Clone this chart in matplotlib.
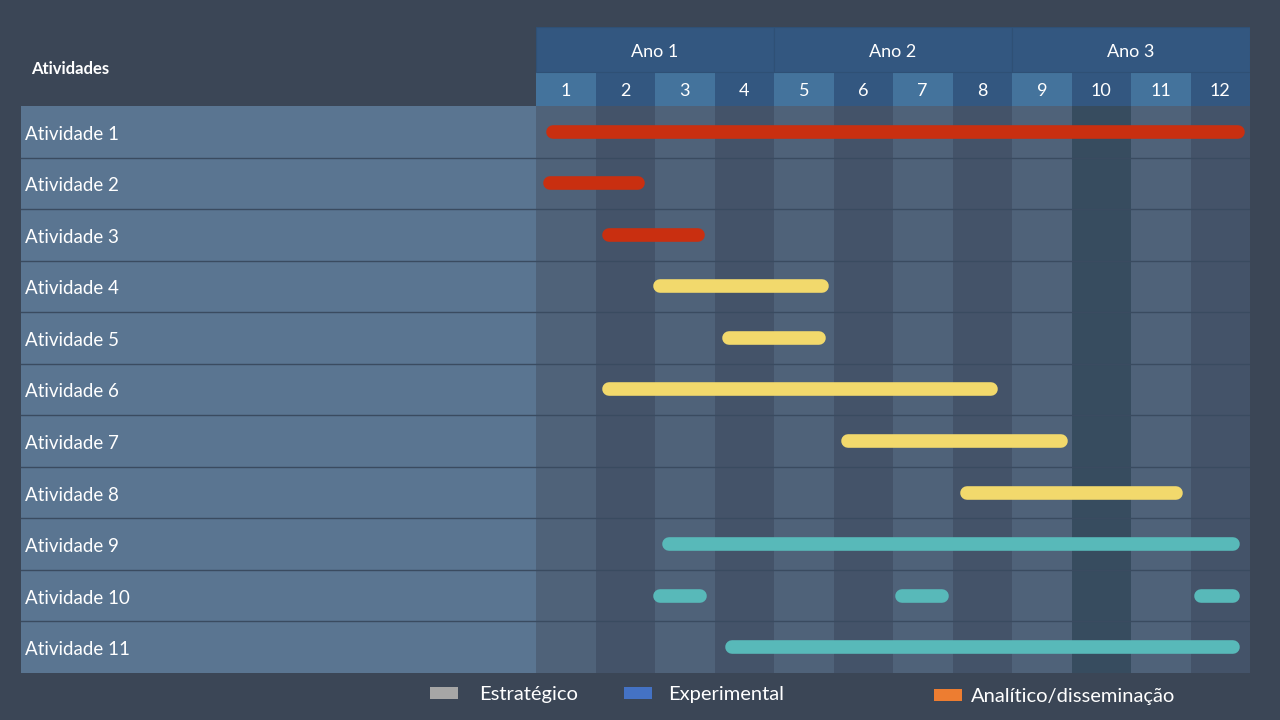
import matplotlib.pyplot as plt
from matplotlib.patches import Rectangle

# dados do cronograma (em meses, 0 = inicio do mes 1)
atividades = ['Atividade %d' % i for i in range(1, 12)]
anos = ['Ano 1', 'Ano 2', 'Ano 3']
meses = [str(m) for m in range(1, 13)]
inicio = [[0.17], [0.12], [1.11], [1.98], [3.14], [1.11], [5.13], [7.13], [2.12],
          [1.98, 6.05, 11.06], [3.18]]
fim = [[11.90], [1.83], [2.84], [4.92], [4.86], [7.75], [8.94], [10.87], [11.83],
       [2.86, 6.94, 11.83], [11.83]]
grupo = ['r', 'r', 'r', 'y', 'y', 'y', 'y', 'y', 't', 't', 't']
legenda = ['Estratégico', 'Experimental', 'Analítico/disseminação']

cores_barra = {'r': '#c92f10', 'y': '#f2d96c', 't': '#58b9b9'}
cores_leg = ['#a6a6a6', '#4472c4', '#ed7d31']
fundo = '#3b4656'

plt.rcParams['font.family'] = ['Lato', 'DejaVu Sans']

fig = plt.figure(figsize=(12.8, 7.2), dpi=100)
fig.patch.set_facecolor(fundo)
ax = fig.add_axes([21 / 1280, 1 - 673 / 720, (1250 - 21) / 1280, (673 - 27) / 720])
ax.set_facecolor(fundo)

n = len(atividades)
lab_w = (536 - 21) / 59.5
mes_h = 34 / 51.55
ano_h = 79 / 51.55
dy = 2.5 / 51.55  # pequeno ajuste vertical do texto
ax.set_xlim(-lab_w, 12)
ax.set_ylim(n, -ano_h)
ax.axis('off')

# colunas do corpo
for i in range(12):
    c = '#4f6279' if i % 2 == 0 else '#445369'
    if i == 9:
        c = '#374c5f'
    ax.add_patch(Rectangle((i, 0), 1, n, facecolor=c, edgecolor='none'))
    # cabecalho dos meses
    ch = '#44739c' if i % 2 == 0 else '#335780'
    ax.add_patch(Rectangle((i, -mes_h), 1, mes_h, facecolor=ch, edgecolor='none'))
    ax.text(i + 0.5, -mes_h / 2 + dy, meses[i], color='white', fontsize=13,
            ha='center', va='center')

# cabecalho dos anos
for k, a in enumerate(anos):
    ax.add_patch(Rectangle((4 * k, -ano_h), 4, ano_h - mes_h, facecolor='#335780',
                           edgecolor='#2f5075', linewidth=0.8))
    ax.text(4 * k + 2, -(ano_h + mes_h) / 2 + dy, a, color='white', fontsize=13,
            ha='center', va='center')

ax.text(-lab_w + 10 / 59.5, -ano_h / 2 + dy, 'Atividades', color='white',
        fontsize=12, fontweight='bold', ha='left', va='center')

# coluna das atividades
ax.add_patch(Rectangle((-lab_w, 0), lab_w, n, facecolor='#5a7591', edgecolor='none'))
for r in range(n):
    ax.text(-lab_w + 4 / 59.5, r + 0.5 + dy, atividades[r], color='white', fontsize=13.5,
            ha='left', va='center')
    if r > 0:
        ax.plot([-lab_w, 12], [r, r], color='#3a4b60', linewidth=1)

# barras
raio = 6.5 / 59.5
for r in range(n):
    for s, e in zip(inicio[r], fim[r]):
        ax.plot([s + raio, e - raio], [r + 0.5, r + 0.5], color=cores_barra[grupo[r]],
                linewidth=9.8, solid_capstyle='round')

# legenda
pos_leg = [(430, 693, 479), (624, 693, 668), (934, 695, 971)]
for (x0, yc, xt), nome, c in zip(pos_leg, legenda, cores_leg):
    fig.patches.append(Rectangle((x0 / 1280, 1 - (yc + 6) / 720), 28 / 1280, 12 / 720,
                                 facecolor=c, edgecolor='none',
                                 transform=fig.transFigure, figure=fig))
    fig.text(xt / 1280, 1 - (yc + 1.5) / 720, nome, color='white', fontsize=14.5,
             ha='left', va='center')

fig.savefig('out.png', dpi=100, facecolor=fundo)
